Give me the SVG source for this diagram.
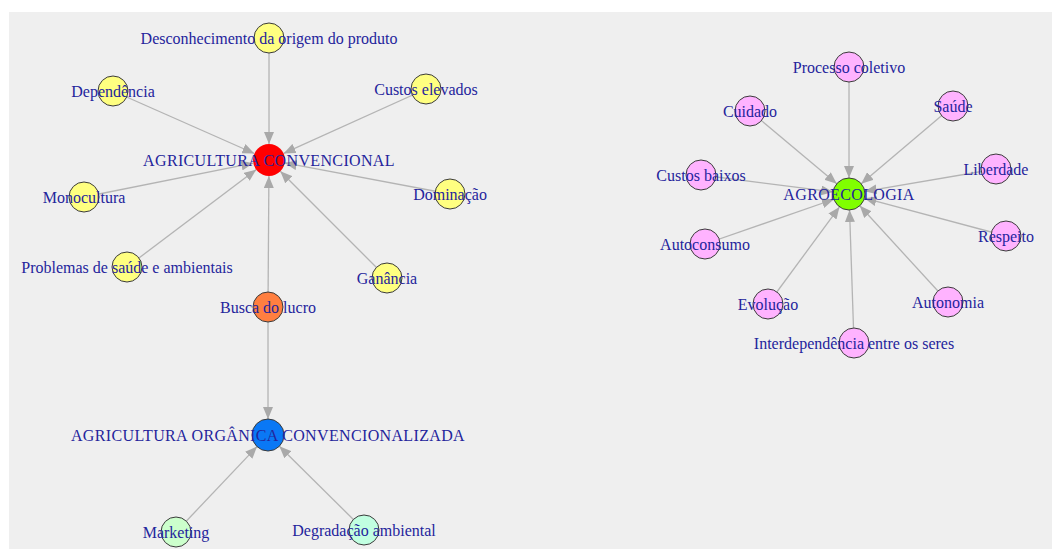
<svg xmlns="http://www.w3.org/2000/svg" width="1053" height="549" viewBox="0 0 1053 549">
<style>
.e{stroke:#b4b4b4;stroke-width:1.3;fill:none;marker-end:url(#ah)}
.n{stroke:#3a3a3a;stroke-width:1}
.t{font-family:"Liberation Serif","Times New Roman",serif;font-size:16px;fill:#24249c;text-anchor:middle}
.c{letter-spacing:0.35px}
.y{fill:#ffff80}
.p{fill:#ffb3ff}
</style>
<defs>
<marker id="ah" viewBox="0 0 12 10" refX="12" refY="5" markerWidth="12" markerHeight="10" markerUnits="userSpaceOnUse" orient="auto">
<path d="M0,0 L12,5 L0,10 z" fill="#a9a9a9"/>
</marker>
</defs>
<rect x="0" y="0" width="1053" height="549" fill="#ffffff"/>
<rect x="9" y="12" width="1043" height="537" fill="#efefef"/>
<g id="connectors">
<line class="e" x1="269" y1="38" x2="269" y2="144"/>
<line class="e" x1="113" y1="91" x2="254.37" y2="153.53"/>
<line class="e" x1="426" y1="89" x2="283.58" y2="153.41"/>
<line class="e" x1="84" y1="197" x2="253.31" y2="163.14"/>
<line class="e" x1="450" y1="194" x2="284.72" y2="162.95"/>
<line class="e" x1="127" y1="267" x2="256.22" y2="169.63"/>
<line class="e" x1="387" y1="278" x2="280.31" y2="171.31"/>
<line class="e" x1="268" y1="307" x2="268.9" y2="176"/>
<line class="e" x1="268" y1="307" x2="268" y2="419"/>
<line class="e" x1="176" y1="532" x2="257" y2="446.6"/>
<line class="e" x1="364" y1="530" x2="279.37" y2="446.25"/>
<line class="e" x1="849" y1="67" x2="849" y2="178"/>
<line class="e" x1="750" y1="111" x2="836.74" y2="183.72"/>
<line class="e" x1="953" y1="106" x2="861.22" y2="183.66"/>
<line class="e" x1="701" y1="175" x2="833.13" y2="191.96"/>
<line class="e" x1="996" y1="169" x2="864.77" y2="191.32"/>
<line class="e" x1="705" y1="244" x2="833.88" y2="199.25"/>
<line class="e" x1="1006" y1="236" x2="864.46" y2="198.13"/>
<line class="e" x1="768" y1="304" x2="839.51" y2="206.88"/>
<line class="e" x1="948" y1="302" x2="859.81" y2="205.8"/>
<line class="e" x1="854" y1="343" x2="849.54" y2="210"/>
</g>
<g id="agricultura-convencional"><circle cx="269" cy="160" r="16" fill="#ff0000"/><text class="t c" x="269" y="166">AGRICULTURA CONVENCIONAL</text></g>
<g id="desconhecimento"><circle class="n y" cx="269" cy="38" r="15"/><text class="t" x="269" y="44">Desconhecimento da origem do produto</text></g>
<g id="dependencia"><circle class="n y" cx="113" cy="91" r="15"/><text class="t" x="113" y="97">Dependência</text></g>
<g id="custos-elevados"><circle class="n y" cx="426" cy="89" r="15"/><text class="t" x="426" y="95">Custos elevados</text></g>
<g id="monocultura"><circle class="n y" cx="84" cy="197" r="15"/><text class="t" x="84" y="203">Monocultura</text></g>
<g id="dominacao"><circle class="n y" cx="450" cy="194" r="15"/><text class="t" x="450" y="200">Dominação</text></g>
<g id="problemas"><circle class="n y" cx="127" cy="267" r="15"/><text class="t" x="127" y="273">Problemas de saúde e ambientais</text></g>
<g id="ganancia"><circle class="n y" cx="387" cy="278" r="15"/><text class="t" x="387" y="284">Ganância</text></g>
<g id="busca-do-lucro"><circle class="n" cx="268" cy="307" r="15" fill="#ff7f40"/><text class="t" x="268" y="313">Busca do lucro</text></g>
<g id="agricultura-organica"><circle class="n" cx="268" cy="435" r="16" fill="#0a78f5"/><text class="t c" x="268" y="441">AGRICULTURA ORGÂNICA CONVENCIONALIZADA</text></g>
<g id="marketing"><circle class="n" cx="176" cy="532" r="15" fill="#ccffcc"/><text class="t" x="176" y="538">Marketing</text></g>
<g id="degradacao"><circle class="n" cx="364" cy="530" r="15" fill="#c1ffe1"/><text class="t" x="364" y="536">Degradação ambiental</text></g>
<g id="agroecologia"><circle class="n" cx="849" cy="194" r="16" fill="#80ff00"/><text class="t c" x="849" y="200">AGROECOLOGIA</text></g>
<g id="processo-coletivo"><circle class="n p" cx="849" cy="67" r="15"/><text class="t" x="849" y="73">Processo coletivo</text></g>
<g id="cuidado"><circle class="n p" cx="750" cy="111" r="15"/><text class="t" x="750" y="117">Cuidado</text></g>
<g id="saude"><circle class="n p" cx="953" cy="106" r="15"/><text class="t" x="953" y="112">Saúde</text></g>
<g id="custos-baixos"><circle class="n p" cx="701" cy="175" r="15"/><text class="t" x="701" y="181">Custos baixos</text></g>
<g id="liberdade"><circle class="n p" cx="996" cy="169" r="15"/><text class="t" x="996" y="175">Liberdade</text></g>
<g id="autoconsumo"><circle class="n p" cx="705" cy="244" r="15"/><text class="t" x="705" y="250">Autoconsumo</text></g>
<g id="respeito"><circle class="n p" cx="1006" cy="236" r="15"/><text class="t" x="1006" y="242">Respeito</text></g>
<g id="evolucao"><circle class="n p" cx="768" cy="304" r="15"/><text class="t" x="768" y="310">Evolução</text></g>
<g id="autonomia"><circle class="n p" cx="948" cy="302" r="15"/><text class="t" x="948" y="308">Autonomia</text></g>
<g id="interdependencia"><circle class="n p" cx="854" cy="343" r="15"/><text class="t" x="854" y="349">Interdependência entre os seres</text></g>
</svg>
